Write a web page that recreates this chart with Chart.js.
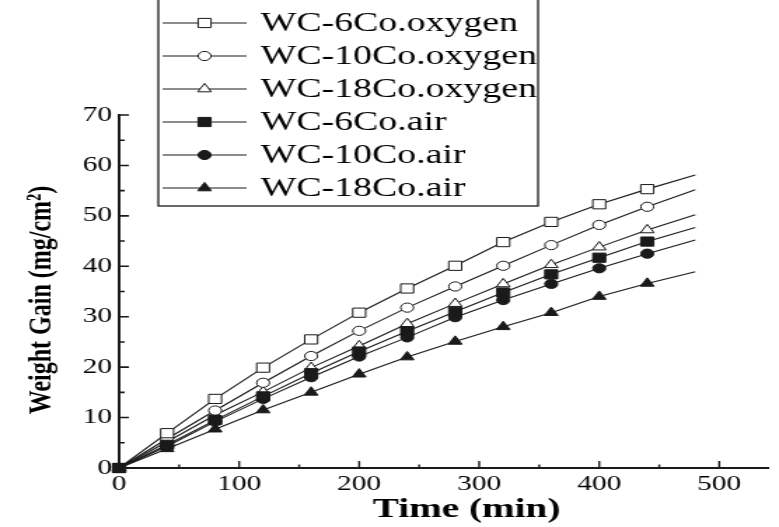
<!DOCTYPE html>
<html>
<head>
<meta charset="utf-8">
<script src="https://cdn.jsdelivr.net/npm/chart.js@4.4.1/dist/chart.umd.min.js"></script>
<style>
  html, body { margin: 0; padding: 0; background: #fff; overflow: hidden; }
  #chart { display: block; width: 779px; height: 527px; }
</style>
</head>
<body>
<canvas id="chart" width="556" height="527" style="width:779px;height:527px;"></canvas>
<script>
// values (time in min, weight gain in mg/cm2)
const times = [0, 40, 80, 120, 160, 200, 240, 280, 320, 360, 400, 440, 480];
const wc6Oxygen  = [0, 6.9, 13.7, 19.9, 25.5, 30.8, 35.6, 40.1, 44.8, 48.8, 52.3, 55.3, 58.1];
const wc10Oxygen = [0, 5.8, 11.4, 16.9, 22.2, 27.2, 31.8, 36.0, 40.1, 44.2, 48.2, 51.8, 55.2];
const wc18Oxygen = [0, 5.2, 10.5, 15.1, 19.9, 24.2, 28.6, 32.6, 36.5, 40.3, 43.8, 47.2, 50.2];
const wc6Air     = [0, 4.6, 9.5, 14.2, 18.8, 23.1, 27.1, 31.0, 34.8, 38.4, 41.7, 44.9, 47.7];
const wc10Air    = [0, 4.3, 9.2, 13.7, 18.0, 22.1, 25.9, 29.9, 33.3, 36.5, 39.6, 42.5, 45.2];
const wc18Air    = [0, 3.8, 7.7, 11.5, 15.0, 18.6, 22.0, 25.1, 28.0, 30.8, 34.0, 36.6, 38.9];

const seriesNames = ["WC-6Co.oxygen", "WC-10Co.oxygen", "WC-18Co.oxygen", "WC-6Co.air", "WC-10Co.air", "WC-18Co.air"];
const xMajorTicks = [0, 100, 200, 300, 400, 500];
const xMinorTicks = [50, 150, 250, 350, 450];
const yMajorTicks = [0, 10, 20, 30, 40, 50, 60, 70];
const yMinorTicks = [5, 15, 25, 35, 45, 55, 65];

const INK = "#1a1a1a";
const SERIF = "'Liberation Serif', 'Times New Roman', serif";

function makeSet(label, values, style, filled, radius) {
    return {
        label: label,
        data: times.map((t, i) => ({ x: t, y: values[i] })),
        borderColor: INK,
        borderWidth: 1.1,
        pointStyle: style,
        pointRadius: ctx => ctx.dataIndex === times.length - 1 ? 0 : radius,
        pointHoverRadius: radius,
        pointBorderWidth: 1,
        pointBorderColor: INK,
        pointBackgroundColor: filled ? INK : "#fff",
        tension: 0,
        fill: false,
        clip: false,
        // filled (air) markers sit on top of the open ones
        order: filled ? 1 : 2
    };
}

const datasets = [
    makeSet(seriesNames[0], wc6Oxygen, "rect", false, 6.5),
    makeSet(seriesNames[1], wc10Oxygen, "circle", false, 4.6),
    makeSet(seriesNames[2], wc18Oxygen, "triangle", false, 5.6),
    makeSet(seriesNames[3], wc6Air, "rect", true, 6.5),
    makeSet(seriesNames[4], wc10Air, "circle", true, 4.6),
    makeSet(seriesNames[5], wc18Air, "triangle", true, 5.6)
];

// inward ticks, axis titles and the boxed legend
const decor = {
    id: "decor",
    afterDraw(chart) {
        const ctx = chart.ctx;
        const xs = chart.scales.x, ys = chart.scales.y;
        const area = chart.chartArea;
        ctx.save();
        ctx.strokeStyle = INK;
        ctx.lineWidth = 1.4;
        ctx.beginPath();
        xMajorTicks.forEach(v => { const p = xs.getPixelForValue(v); ctx.moveTo(p, area.bottom); ctx.lineTo(p, area.bottom - 7); });
        xMinorTicks.forEach(v => { const p = xs.getPixelForValue(v); ctx.moveTo(p, area.bottom); ctx.lineTo(p, area.bottom - 3.5); });
        ctx.stroke();
        ctx.lineWidth = 1.6;
        ctx.beginPath();
        yMajorTicks.forEach(v => { const p = ys.getPixelForValue(v); ctx.moveTo(area.left, p); ctx.lineTo(area.left + 7, p); });
        yMinorTicks.forEach(v => { const p = ys.getPixelForValue(v); ctx.moveTo(area.left, p); ctx.lineTo(area.left + 4, p); });
        ctx.stroke();

        // axis titles
        ctx.fillStyle = "#000";
        ctx.font = "bold 28px " + SERIF;
        ctx.textAlign = "center";
        ctx.textBaseline = "alphabetic";
        ctx.fillText("Time (min)", 333, 517);

        ctx.save();
        ctx.translate(29.5, 300);
        ctx.rotate(-Math.PI / 2);
        ctx.font = "bold 24px " + SERIF;
        ctx.textBaseline = "middle";
        ctx.fillText("Weight Gain (mg/cm²)", 0, 0);
        ctx.restore();

        // legend box
        ctx.lineWidth = 1.3;
        ctx.strokeStyle = INK;
        ctx.strokeRect(113, -3, 271, 209);
        chart.data.datasets.forEach((ds, i) => {
            const y = 23 + i * 33;
            ctx.lineWidth = 1.1;
            ctx.beginPath();
            ctx.moveTo(116, y);
            ctx.lineTo(176, y);
            ctx.stroke();
            ctx.fillStyle = ds.pointBackgroundColor;
            ctx.strokeStyle = INK;
            ctx.lineWidth = 1;
            const r = ds.pointHoverRadius;
            Chart.helpers.drawPoint(ctx, { pointStyle: ds.pointStyle, radius: r, borderWidth: 1, rotation: 0 }, 146, y);
            ctx.fillStyle = "#000";
            ctx.font = "27px " + SERIF;
            ctx.textAlign = "left";
            ctx.textBaseline = "middle";
            ctx.fillText(ds.label, 186, y + 1);
        });
        ctx.restore();
    }
};

const chart = new Chart(document.getElementById("chart"), {
    type: "line",
    data: { datasets: datasets },
    options: {
        responsive: false,
        animation: false,
        devicePixelRatio: 1,
        layout: { padding: { top: 115, left: 0, right: 0, bottom: 0 } },
        plugins: { legend: { display: false }, tooltip: { enabled: false } },
        scales: {
            x: {
                type: "linear",
                min: 0,
                max: 541,
                afterFit: s => { s.height = 59; },
                grid: { display: false, drawTicks: false },
                border: { display: true, color: INK, width: 2 },
                ticks: {
                    stepSize: 100,
                    includeBounds: false,
                    padding: 4,
                    color: "#000",
                    font: { family: SERIF, size: 21 }
                }
            },
            y: {
                min: 0,
                max: 70,
                afterFit: s => { s.width = 85; },
                grid: { display: false, drawTicks: false },
                border: { display: true, color: INK, width: 2 },
                ticks: {
                    stepSize: 10,
                    padding: 5,
                    color: "#000",
                    font: { family: SERIF, size: 21 }
                }
            }
        }
    },
    plugins: [decor]
});
document.getElementById("chart").style.width = "779px";
document.getElementById("chart").style.height = "527px";
</script>
</body>
</html>
